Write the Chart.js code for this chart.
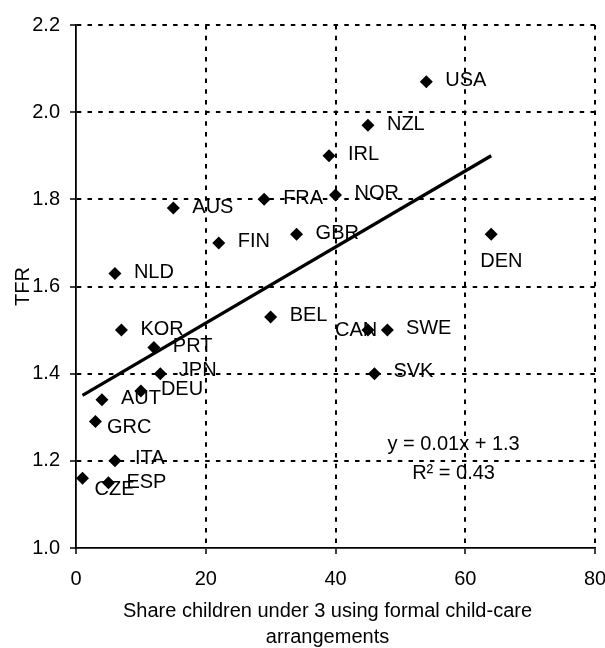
<!DOCTYPE html>
<html>
<head>
<meta charset="utf-8">
<script src="https://cdn.jsdelivr.net/npm/chart.js@4/dist/chart.umd.min.js"></script>
<style>
  html, body { margin: 0; padding: 0; background: #fff; }
  #wrap { width: 605px; height: 648px; }
</style>
</head>
<body>
<div id="wrap"><canvas id="c" width="605" height="648"></canvas></div>
<script>
// ---- data ----
const countries = ['USA','NZL','IRL','NOR','FRA','AUS','GBR','FIN','DEN','NLD','BEL','KOR','CAN','SWE','PRT','JPN','SVK','DEU','AUT','GRC','ITA','CZE','ESP'];
const childcareShare = [54, 45, 39, 40, 29, 15, 34, 22, 64, 6, 30, 7, 45, 48, 12, 13, 46, 10, 4, 3, 6, 1, 5];
const tfr = [2.07, 1.97, 1.90, 1.81, 1.80, 1.78, 1.72, 1.70, 1.72, 1.63, 1.53, 1.50, 1.50, 1.50, 1.46, 1.40, 1.40, 1.36, 1.34, 1.29, 1.20, 1.16, 1.15];

// linear trend line end points (as drawn in the reference)
const trendX = [1, 64];
const trendY = [1.35, 1.90];

// trend equation text and where it sits (data coordinates)
const equationLines = ['y = 0.01x + 1.3', 'R\u00B2 = 0.43'];
const equationX = 58.2;
const equationY = [1.238, 1.171];

// axis ticks
const xTickValues = [0, 20, 40, 60, 80];
const yTickValues = [1.0, 1.2, 1.4, 1.6, 1.8, 2.0, 2.2];

const xTitle = ['Share children under 3 using formal child-care', 'arrangements'];
const yTitle = 'TFR';

// ---- label placement (style, pixels relative to the marker) ----
const defaultLabelOffset = [19, -1];
const labelOffsets = {
  DEN: [-11, 27],
  CAN: [-33, 0],
  CZE: [12, 11],
  GRC: [11.5, 6],
  ESP: [18, 0],
  ITA: [20, -2],
  DEU: [20, -2],
  JPN: [18.5, -3],
  SVK: [19, -2],
  SWE: [18.5, -2],
  BEL: [19, -2]
};

const FONT = '"Liberation Sans", Arial, Helvetica, sans-serif';
const FS = 20;

const scatterPoints = countries.map((c, i) => ({ x: childcareShare[i], y: tfr[i] }));
const trendPoints = trendX.map((x, i) => ({ x: x, y: trendY[i] }));

const labelPlugin = {
  id: 'pointLabels',
  afterDatasetsDraw(chart) {
    const ctx = chart.ctx;
    const meta = chart.getDatasetMeta(0);
    ctx.save();
    ctx.font = FS + 'px ' + FONT;
    ctx.fillStyle = '#000';
    ctx.textBaseline = 'middle';
    ctx.textAlign = 'left';
    meta.data.forEach((pt, i) => {
      const off = labelOffsets[countries[i]] || defaultLabelOffset;
      ctx.fillText(countries[i], pt.x + off[0], pt.y + off[1]);
    });
    const xs = chart.scales.x, ys = chart.scales.y;
    ctx.textAlign = 'center';
    equationLines.forEach((t, i) => {
      ctx.fillText(t, xs.getPixelForValue(equationX), ys.getPixelForValue(equationY[i]));
    });
    ctx.restore();
  },
  afterDraw(chart) {
    // x-axis title, centred a little left of the plot centre as in the reference
    const ctx = chart.ctx;
    const xs = chart.scales.x;
    const cx = (xs.left + xs.right) / 2 - 8;
    ctx.save();
    ctx.font = FS + 'px ' + FONT;
    ctx.fillStyle = '#000';
    ctx.textAlign = 'center';
    ctx.textBaseline = 'alphabetic';
    const baseTop = xs.bottom - 31;
    xTitle.forEach((t, i) => ctx.fillText(t, cx, baseTop + i * 26));
    ctx.restore();
  }
};

// dotted grid lines, but none on the axis lines themselves (those are solid)
function gridOpts(axisValue) {
  return {
    color: (c) => (c.tick && c.tick.value === axisValue) ? 'rgba(0,0,0,0)' : '#000',
    lineWidth: 2,
    tickLength: 6,
    tickWidth: 1.5,
    tickColor: '#000',
    tickBorderDash: []
  };
}
const borderOpts = { display: true, color: '#000', width: 1.8, dash: [4.5, 6.2], z: 1 };

new Chart(document.getElementById('c'), {
  type: 'scatter',
  data: {
    datasets: [
      {
        label: 'TFR',
        data: scatterPoints,
        pointStyle: 'rectRot',
        pointRadius: 6.5,
        pointHoverRadius: 6.5,
        backgroundColor: '#000',
        borderColor: '#000',
        borderWidth: 0
      },
      {
        type: 'line',
        label: 'Linear trend',
        data: trendPoints,
        borderColor: '#000',
        borderWidth: 3.2,
        pointRadius: 0,
        fill: false,
        tension: 0
      }
    ]
  },
  options: {
    responsive: false,
    animation: false,
    devicePixelRatio: 1,
    layout: { padding: { top: 25, right: 10, bottom: 0, left: 0 } },
    plugins: {
      legend: { display: false },
      tooltip: { enabled: false }
    },
    scales: {
      x: {
        type: 'linear',
        min: 0,
        max: 80,
        afterBuildTicks: (s) => { s.ticks = xTickValues.map(v => ({ value: v })); },
        afterFit: (s) => { s.height = 100; s.paddingLeft = 0; s.paddingRight = 0; },
        ticks: {
          color: '#000',
          font: { family: FONT, size: FS },
          padding: 13,
          maxRotation: 0,
          callback: (v) => String(v)
        },
        grid: gridOpts(xTickValues[0]),
        border: borderOpts,
        title: { display: false, text: xTitle }
      },
      y: {
        type: 'linear',
        min: 1.0,
        max: 2.2,
        afterBuildTicks: (s) => { s.ticks = yTickValues.map(v => ({ value: v })); },
        afterFit: (s) => { s.width = 76; },
        ticks: {
          color: '#000',
          font: { family: FONT, size: FS },
          padding: 10,
          callback: (v) => Number(v).toFixed(1)
        },
        grid: gridOpts(yTickValues[0]),
        border: borderOpts,
        title: {
          display: true,
          text: yTitle,
          color: '#000',
          font: { family: FONT, size: FS },
          padding: { top: 11, bottom: 0 }
        }
      }
    }
  },
  plugins: [labelPlugin]
});
</script>
</body>
</html>
